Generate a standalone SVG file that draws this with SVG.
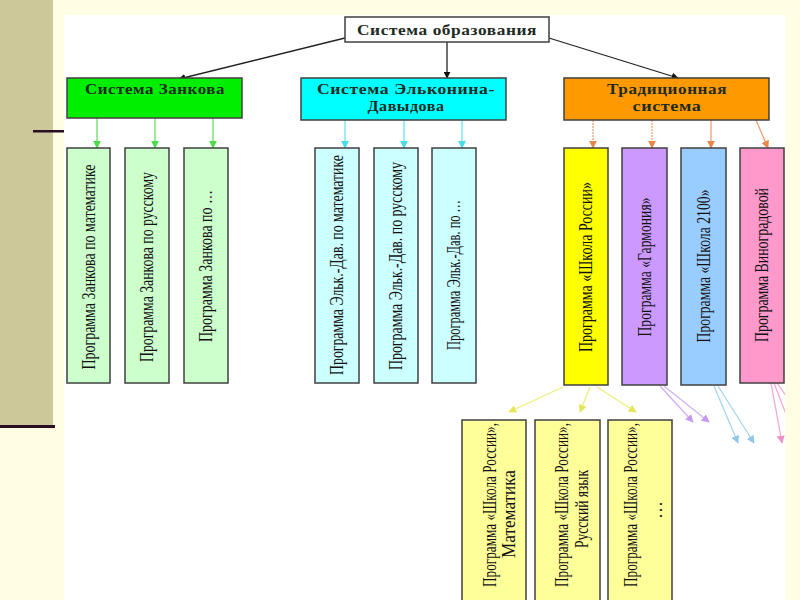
<svg xmlns="http://www.w3.org/2000/svg" width="800" height="600" viewBox="0 0 800 600">
<defs>
<style>
.hdr{font-family:"Liberation Serif","Times New Roman",serif;font-weight:bold;font-size:15px;letter-spacing:0.5px;fill:#1e2a1e;text-anchor:middle}
.vt{font-family:"Liberation Serif","Times New Roman",serif;font-size:18px;fill:#111;text-anchor:middle}
.box{stroke:#404040;stroke-width:1.5}
.c{fill:none;stroke-width:1.3}
</style>
<marker id="mk" viewBox="0 0 10 10" refX="9" refY="5" markerWidth="7" markerHeight="7" orient="auto" markerUnits="userSpaceOnUse"><path d="M0,0L10,5L0,10z" fill="#111"/></marker>
<marker id="mg" viewBox="0 0 10 10" refX="9" refY="5" markerWidth="8" markerHeight="8" orient="auto" markerUnits="userSpaceOnUse"><path d="M0,0L10,5L0,10z" fill="#4cdc4c"/></marker>
<marker id="mc" viewBox="0 0 10 10" refX="9" refY="5" markerWidth="8" markerHeight="8" orient="auto" markerUnits="userSpaceOnUse"><path d="M0,0L10,5L0,10z" fill="#44dde8"/></marker>
<marker id="mo" viewBox="0 0 10 10" refX="9" refY="5" markerWidth="8" markerHeight="8" orient="auto" markerUnits="userSpaceOnUse"><path d="M0,0L10,5L0,10z" fill="#e8874a"/></marker>
<marker id="my" viewBox="0 0 10 10" refX="9" refY="5" markerWidth="8" markerHeight="8" orient="auto" markerUnits="userSpaceOnUse"><path d="M0,0L10,5L0,10z" fill="#e6e65a"/></marker>
<marker id="mp" viewBox="0 0 10 10" refX="9" refY="5" markerWidth="8" markerHeight="8" orient="auto" markerUnits="userSpaceOnUse"><path d="M0,0L10,5L0,10z" fill="#c49af0"/></marker>
<marker id="mb" viewBox="0 0 10 10" refX="9" refY="5" markerWidth="8" markerHeight="8" orient="auto" markerUnits="userSpaceOnUse"><path d="M0,0L10,5L0,10z" fill="#8fc6ea"/></marker>
<marker id="mpk" viewBox="0 0 10 10" refX="9" refY="5" markerWidth="8" markerHeight="8" orient="auto" markerUnits="userSpaceOnUse"><path d="M0,0L10,5L0,10z" fill="#ee90c8"/></marker>
<clipPath id="wa"><rect x="64" y="15" width="721" height="585"/></clipPath>
</defs>

<!-- slide background -->
<rect x="0" y="0" width="800" height="600" fill="#fffee4"/>
<rect x="0" y="0" width="53" height="427" fill="#ccc89a"/>
<rect x="0" y="425" width="55" height="3" fill="#2a0e22"/>
<rect x="33" y="130" width="33" height="2.5" fill="#2a0e22"/>
<rect x="64" y="15" width="721" height="585" fill="#ffffff"/>

<!-- connectors -->
<g id="connectors" clip-path="url(#wa)">
<path class="c" stroke="#222" d="M345,38L179,79" marker-end="url(#mk)"/>
<path class="c" stroke="#222" d="M447,42L447,78" marker-end="url(#mk)"/>
<path class="c" stroke="#222" d="M549,38L678,78" marker-end="url(#mk)"/>

<path class="c" stroke="#66e066" d="M97,118V148" marker-end="url(#mg)"/>
<path class="c" stroke="#66e066" d="M155,118V148" marker-end="url(#mg)"/>
<path class="c" stroke="#66e066" d="M213,118V148" marker-end="url(#mg)"/>

<path class="c" stroke="#66e8f0" d="M345,120V148" marker-end="url(#mc)"/>
<path class="c" stroke="#66e8f0" d="M404,120V148" marker-end="url(#mc)"/>
<path class="c" stroke="#66e8f0" d="M462,120V148" marker-end="url(#mc)"/>

<path class="c" stroke="#eea070" stroke-dasharray="2,1" d="M593,120V148" marker-end="url(#mo)"/>
<path class="c" stroke="#eea070" stroke-dasharray="2,1" d="M652,120V148" marker-end="url(#mo)"/>
<path class="c" stroke="#eea070" d="M711,120V148" marker-end="url(#mo)"/>
<path class="c" stroke="#eea070" d="M756,120L768,148" marker-end="url(#mo)"/>

<path class="c" stroke="#eeee80" d="M563,387L509,412" marker-end="url(#my)"/>
<path class="c" stroke="#eeee80" d="M590,387L580,412" marker-end="url(#my)"/>
<path class="c" stroke="#eeee80" d="M597,387L636,412" marker-end="url(#my)"/>

<path class="c" stroke="#d0b0f4" d="M660,386L693,422" marker-end="url(#mp)"/>
<path class="c" stroke="#d0b0f4" d="M664,386L709,422" marker-end="url(#mp)"/>

<path class="c" stroke="#a8d4f0" d="M714,386L738,443" marker-end="url(#mb)"/>
<path class="c" stroke="#a8d4f0" d="M718,386L754,443" marker-end="url(#mb)"/>

<path class="c" stroke="#f2a8d4" d="M771,383L782,443" marker-end="url(#mpk)"/>
<path class="c" stroke="#f2a8d4" d="M774,383L796,440" marker-end="url(#mpk)"/>
<path class="c" stroke="#f2a8d4" d="M777,383L810,430" marker-end="url(#mpk)"/>
</g>

<!-- root -->
<g id="root">
<rect class="box" x="345" y="17" width="204" height="25" fill="#ffffff"/>
<text class="hdr" x="447" y="35" fill="#111" textLength="180" lengthAdjust="spacingAndGlyphs">Система образования</text>
</g>

<!-- level 1 -->
<g id="zankov">
<rect class="box" x="67" y="78" width="175" height="40" fill="#00ee00"/>
<text class="hdr" x="155" y="94" textLength="140" lengthAdjust="spacingAndGlyphs">Система Занкова</text>
</g>
<g id="elkonin">
<rect class="box" x="301" y="78" width="205" height="42" fill="#00ffff"/>
<text class="hdr" x="406" y="94" textLength="178" lengthAdjust="spacingAndGlyphs">Система Эльконина-</text>
<text class="hdr" x="406" y="111" textLength="77" lengthAdjust="spacingAndGlyphs">Давыдова</text>
</g>
<g id="traditional">
<rect class="box" x="564" y="78" width="205" height="42" fill="#ff9900"/>
<text class="hdr" x="667" y="94" textLength="120" lengthAdjust="spacingAndGlyphs">Традиционная</text>
<text class="hdr" x="667" y="111" textLength="69" lengthAdjust="spacingAndGlyphs">система</text>
</g>

<!-- Zankov programs -->
<g id="z1">
<rect class="box" x="67" y="148" width="43" height="235" fill="#ccffcc"/>
<text class="vt" transform="translate(95,267) rotate(-90)" textLength="205" lengthAdjust="spacingAndGlyphs">Программа Занкова по математике</text>
</g>
<g id="z2">
<rect class="box" x="125" y="148" width="44" height="235" fill="#ccffcc"/>
<text class="vt" transform="translate(153,267) rotate(-90)" textLength="190" lengthAdjust="spacingAndGlyphs">Программа Занкова по русскому</text>
</g>
<g id="z3">
<rect class="box" x="184" y="148" width="44" height="235" fill="#ccffcc"/>
<text class="vt" transform="translate(212,266) rotate(-90)" textLength="152" lengthAdjust="spacingAndGlyphs">Программа Занкова по …</text>
</g>

<!-- Elkonin programs -->
<g id="e1">
<rect class="box" x="315" y="148" width="44" height="235" fill="#ccffff"/>
<text class="vt" transform="translate(343,265) rotate(-90)" textLength="220" lengthAdjust="spacingAndGlyphs">Программа Эльк.-Дав. по математике</text>
</g>
<g id="e2">
<rect class="box" x="374" y="148" width="44" height="235" fill="#ccffff"/>
<text class="vt" transform="translate(402,266) rotate(-90)" textLength="208" lengthAdjust="spacingAndGlyphs">Программа Эльк.-Дав. по русскому</text>
</g>
<g id="e3">
<rect class="box" x="432" y="148" width="44" height="235" fill="#ccffff"/>
<text class="vt" transform="translate(460,275) rotate(-90)" textLength="150" lengthAdjust="spacingAndGlyphs">Программа Эльк.-Дав. по …</text>
</g>

<!-- Traditional programs -->
<g id="t1">
<rect class="box" x="564" y="148" width="44" height="237" fill="#ffff00"/>
<text class="vt" transform="translate(592,267) rotate(-90)" textLength="170" lengthAdjust="spacingAndGlyphs">Программа «Школа России»</text>
</g>
<g id="t2">
<rect class="box" x="622" y="148" width="45" height="237" fill="#cc99ff"/>
<text class="vt" transform="translate(651,267) rotate(-90)" textLength="139" lengthAdjust="spacingAndGlyphs">Программа «Гармония»</text>
</g>
<g id="t3">
<rect class="box" x="681" y="148" width="45" height="237" fill="#99ccff"/>
<text class="vt" transform="translate(710,266) rotate(-90)" textLength="153" lengthAdjust="spacingAndGlyphs">Программа «Школа 2100»</text>
</g>
<g id="t4">
<rect class="box" x="740" y="148" width="44" height="235" fill="#ff99cc"/>
<text class="vt" transform="translate(768,265) rotate(-90)" textLength="154" lengthAdjust="spacingAndGlyphs">Программа Виноградовой</text>
</g>

<!-- School of Russia sub-programs -->
<g id="s1">
<rect class="box" x="462" y="420" width="64" height="185" fill="#ffff99"/>
<text class="vt" transform="translate(496,505) rotate(-90)" textLength="164" lengthAdjust="spacingAndGlyphs">Программа «Школа России»,</text>
<text class="vt" transform="translate(515,514) rotate(-90)" textLength="88" lengthAdjust="spacingAndGlyphs">Математика</text>
</g>
<g id="s2">
<rect class="box" x="535" y="420" width="65" height="185" fill="#ffff99"/>
<text class="vt" transform="translate(568,505) rotate(-90)" textLength="164" lengthAdjust="spacingAndGlyphs">Программа «Школа России»,</text>
<text class="vt" transform="translate(588,509) rotate(-90)" textLength="78" lengthAdjust="spacingAndGlyphs">Русский язык</text>
</g>
<g id="s3">
<rect class="box" x="608" y="420" width="64" height="185" fill="#ffff99"/>
<text class="vt" transform="translate(637,505) rotate(-90)" textLength="164" lengthAdjust="spacingAndGlyphs">Программа «Школа России»,</text>
<text class="vt" transform="translate(662,510) rotate(-90)">…</text>
</g>
</svg>
